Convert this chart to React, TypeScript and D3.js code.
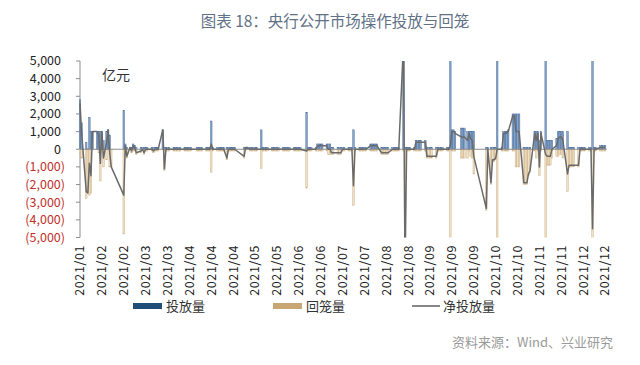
import React from 'react';
import * as d3 from 'd3';

// [day of month, 投放量, 回笼量] in 亿元
type Op = [number, number, number];

const jan: Op[] = [
  [21, 2800, 200], [22, 1500, 500], [25, 400, 2800], [26, 20, 2500], [27, 1800, 2600], [28, 1000, 2500], [29, 1000, 0],
];
const feb: Op[] = [
  [1, 1000, 0], [2, 1000, 200], [3, 1000, 1800], [4, 1000, 0], [5, 500, 1000], [7, 1000, 600], [8, 1100, 0],
  [9, 800, 1000], [10, 0, 1000], [18, 2200, 4800], [19, 300, 100], [20, 100, 500], [22, 100, 0], [23, 100, 200],
  [24, 300, 100], [25, 200, 100], [26, 100, 300],
];
const mar: Op[] = [
  [1, 100, 200], [2, 100, 100], [3, 100, 300], [4, 100, 100], [5, 100, 100], [8, 100, 100], [9, 100, 200],
  [10, 100, 100], [11, 100, 100], [12, 100, 100], [15, 1100, 0], [16, 100, 1200], [17, 100, 100], [18, 100, 100],
  [19, 100, 100], [22, 100, 100], [23, 100, 100], [24, 100, 100], [25, 100, 100], [26, 100, 100], [29, 100, 100],
  [30, 100, 100], [31, 100, 100],
];
const apr: Op[] = [
  [1, 100, 100], [2, 100, 100], [6, 100, 100], [7, 100, 100], [8, 100, 100], [9, 100, 100], [12, 100, 100],
  [13, 100, 100], [14, 100, 100], [15, 1600, 1300], [16, 100, 100], [19, 100, 100], [20, 100, 100], [21, 100, 100],
  [22, 100, 100], [23, 100, 100], [25, 100, 600], [26, 100, 100], [27, 100, 100], [28, 100, 100], [29, 100, 100],
  [30, 100, 100],
];
const may: Op[] = [
  [6, 100, 500], [7, 100, 0], [8, 100, 0], [10, 100, 100], [11, 100, 100], [12, 100, 100], [13, 100, 100],
  [14, 100, 100], [17, 1100, 1100], [18, 100, 100], [19, 100, 100], [20, 100, 100], [21, 100, 100], [24, 100, 100],
  [25, 100, 100], [26, 100, 100], [27, 100, 100], [28, 100, 100], [31, 100, 100],
];
const jun: Op[] = [
  [1, 100, 100], [2, 100, 100], [3, 100, 100], [4, 100, 100], [7, 100, 100], [8, 100, 100], [9, 100, 100],
  [10, 100, 100], [11, 100, 100], [15, 2100, 2200], [16, 100, 100], [17, 100, 100], [18, 100, 100], [21, 100, 100],
  [22, 300, 100], [23, 300, 100], [24, 300, 100], [25, 300, 100], [28, 300, 100], [29, 300, 300], [30, 300, 300],
];
const jul: Op[] = [
  [1, 100, 300], [2, 100, 300], [5, 100, 300], [6, 100, 300], [7, 100, 300], [8, 100, 100], [9, 100, 100],
  [12, 100, 100], [13, 100, 100], [14, 100, 100], [15, 1100, 3170], [16, 100, 100], [19, 100, 100], [20, 100, 100],
  [21, 100, 100], [22, 100, 100], [23, 100, 100], [26, 300, 100], [27, 300, 100], [28, 300, 100], [29, 300, 100],
  [30, 300, 100],
];
const aug: Op[] = [
  [2, 100, 300], [3, 100, 300], [4, 100, 300], [5, 100, 300], [6, 100, 300], [9, 100, 100], [10, 100, 100],
  [11, 100, 100], [12, 100, 100], [13, 100, 100], [16, 6100, 100], [17, 100, 7100], [18, 100, 100], [19, 100, 100],
  [20, 100, 100], [23, 100, 100], [24, 500, 100], [25, 500, 100], [26, 500, 100], [27, 500, 100], [30, 500, 100],
  [31, 100, 500],
];
const sep: Op[] = [
  [1, 100, 500], [2, 100, 500], [3, 100, 500], [6, 100, 500], [7, 100, 100], [8, 100, 100], [9, 100, 100],
  [10, 100, 100], [13, 100, 100], [14, 100, 100], [15, 6300, 6100], [16, 1100, 100], [17, 1100, 100],
  [18, 1000, 100], [22, 1200, 500], [23, 1200, 500], [24, 1200, 500], [26, 1000, 500], [27, 1000, 100],
  [28, 1000, 400], [29, 1000, 500], [30, 1000, 1400],
];
const oct: Op[] = [
  [8, 100, 3450], [9, 100, 100], [11, 100, 2000], [12, 100, 700], [13, 100, 700], [14, 100, 600], [15, 5100, 5100],
  [18, 100, 100], [19, 1000, 100], [20, 1000, 100], [21, 1000, 100], [22, 1100, 100], [25, 2000, 100],
  [26, 2000, 100], [27, 2000, 1000], [28, 2000, 1000], [29, 2000, 1000],
];
const nov: Op[] = [
  [1, 100, 2000], [2, 100, 2000], [3, 100, 2000], [4, 100, 1500], [5, 100, 1300], [8, 1000, 100], [9, 1000, 500],
  [10, 1000, 100], [11, 500, 1500], [12, 1000, 100], [15, 10100, 10400], [16, 500, 900], [17, 500, 900],
  [18, 500, 900], [19, 500, 500], [22, 600, 400], [23, 1000, 400], [24, 1000, 300], [25, 1000, 300],
  [26, 1000, 500], [29, 1000, 2400], [30, 100, 1000],
];
const dec: Op[] = [
  [1, 100, 1000], [2, 100, 1000], [3, 100, 1000], [6, 100, 1000], [7, 100, 100], [8, 100, 100], [9, 100, 100],
  [10, 100, 100], [13, 100, 100], [14, 100, 100], [15, 5100, 9600], [16, 100, 100], [17, 100, 100],
  [20, 200, 100], [21, 200, 100], [22, 200, 100], [23, 200, 100],
];

const months: Op[][] = [jan, feb, mar, apr, may, jun, jul, aug, sep, oct, nov, dec];

const tickLabels = [
  '2021/01', '2021/02', '2021/02', '2021/03', '2021/03', '2021/04', '2021/04', '2021/04', '2021/05',
  '2021/05', '2021/06', '2021/06', '2021/07', '2021/07', '2021/08', '2021/08', '2021/09', '2021/09',
  '2021/09', '2021/10', '2021/10', '2021/11', '2021/11', '2021/12', '2021/12',
];
const yTicks = [5000, 4000, 3000, 2000, 1000, 0, -1000, -2000, -3000, -4000, -5000];

const seriesNames = ['投放量', '回笼量', '净投放量'];

interface Row { date: Date; inject: number; withdraw: number; net: number; }

const rows: Row[] = months.flatMap((ops, m) =>
  ops.map(([d, inj, wd]) => ({ date: new Date(2021, m, d), inject: inj, withdraw: wd, net: inj - wd }))
);

const startDate = new Date(2021, 0, 21);
const endDate = new Date(2021, 11, 24);

const fontCn = '"Microsoft YaHei", "Noto Sans CJK SC", "Noto Sans", sans-serif';

export default function App() {
  const width = 640;
  const height = 365;
  const left = 80;
  const right = 606.6;
  const top = 61;
  const bottom = 237.5;

  const x = d3.scaleTime().domain([startDate, endDate]).range([left, right]);
  const y = d3.scaleLinear().domain([-5000, 5000]).range([bottom, top]);
  const dayW = x(d3.timeDay.offset(startDate, 1)) - x(startDate);
  const tickDates = tickLabels.map((_, i) => d3.timeDay.offset(startDate, 14 * i));

  const line = d3.line<Row>().x(d => x(d.date)).y(d => y(d.net));
  const fmt = d3.format(',');

  return (
    <svg width={width} height={height} style={{ position: 'absolute', left: 0, top: 0, background: '#fff' }}>
      <defs>
        <clipPath id="plot">
          <rect x={left - 2} y={top} width={right - left + 4} height={bottom - top} />
        </clipPath>
      </defs>

      {/* Title */}
      <text x={335} y={27} textAnchor="middle" fontFamily={fontCn} fontSize={15.5} fill="#5f7186">
        图表 18：央行公开市场操作投放与回笼
      </text>

      {/* Y axis */}
      <line x1={left} x2={left} y1={top} y2={bottom} stroke="#8c8c8c" />
      {yTicks.map(t => (
        <g key={t}>
          <line x1={left - 4} x2={left} y1={y(t)} y2={y(t)} stroke="#8c8c8c" />
          <text
            x={t < 0 ? 65 : 61}
            y={y(t)}
            dy="0.35em"
            textAnchor="end"
            fontFamily={fontCn}
            fontSize={12.5}
            fill={t < 0 ? '#c0302a' : '#222'}
          >
            {t < 0 ? `(${fmt(-t)})` : fmt(t)}
          </text>
        </g>
      ))}
      <text x={102} y={80} fontFamily={fontCn} fontSize={14} fill="#333">亿元</text>

      <g clipPath="url(#plot)">
        {/* 投放量 */}
        {rows.map((d, i) => (
          <rect
            key={'i' + i}
            x={x(d.date) - dayW / 2}
            width={dayW}
            y={y(d.inject)}
            height={y(0) - y(d.inject)}
            fill="#86a5c9"
            stroke="#46699a"
            strokeWidth={0.45}
          />
        ))}
        {/* 回笼量 */}
        {rows.map((d, i) => (
          <rect
            key={'w' + i}
            x={x(d.date) - dayW / 2}
            width={dayW}
            y={y(0)}
            height={y(-d.withdraw) - y(0)}
            fill="#efe1c8"
            stroke="#cbac7c"
            strokeWidth={0.45}
          />
        ))}
      </g>

      {/* zero line */}
      <line x1={left} x2={right} y1={y(0)} y2={y(0)} stroke="#8c8c8c" />

      <g clipPath="url(#plot)">
        <path d={line(rows) ?? ''} fill="none" stroke="#6a6a6a" strokeWidth={1.5} strokeLinejoin="round" />
      </g>

      {/* X labels */}
      {tickDates.map((d, i) => (
        <text
          key={i}
          transform={`translate(${x(d)},245) rotate(-90)`}
          textAnchor="end"
          dy="0.35em"
          fontFamily={fontCn}
          fontSize={12.5}
          letterSpacing={0.6}
          fill="#222"
        >
          {tickLabels[i]}
        </text>
      ))}

      {/* Legend */}
      <rect x={133} y={303} width={29} height={6} fill="#1f4e79" />
      <text x={166} y={306} dy="0.35em" fontFamily={fontCn} fontSize={13} fill="#333">{seriesNames[0]}</text>
      <rect x={273} y={303} width={29} height={6} fill="#c7a674" />
      <text x={306} y={306} dy="0.35em" fontFamily={fontCn} fontSize={13} fill="#333">{seriesNames[1]}</text>
      <line x1={412} x2={440} y1={306} y2={306} stroke="#6a6a6a" strokeWidth={1.6} />
      <text x={443} y={306} dy="0.35em" fontFamily={fontCn} fontSize={13} fill="#333">{seriesNames[2]}</text>

      {/* Source */}
      <text x={613} y={342} dy="0.35em" textAnchor="end" fontFamily={fontCn} fontSize={13} fill="#9a9a9a">
        资料来源：Wind、兴业研究
      </text>
    </svg>
  );
}
